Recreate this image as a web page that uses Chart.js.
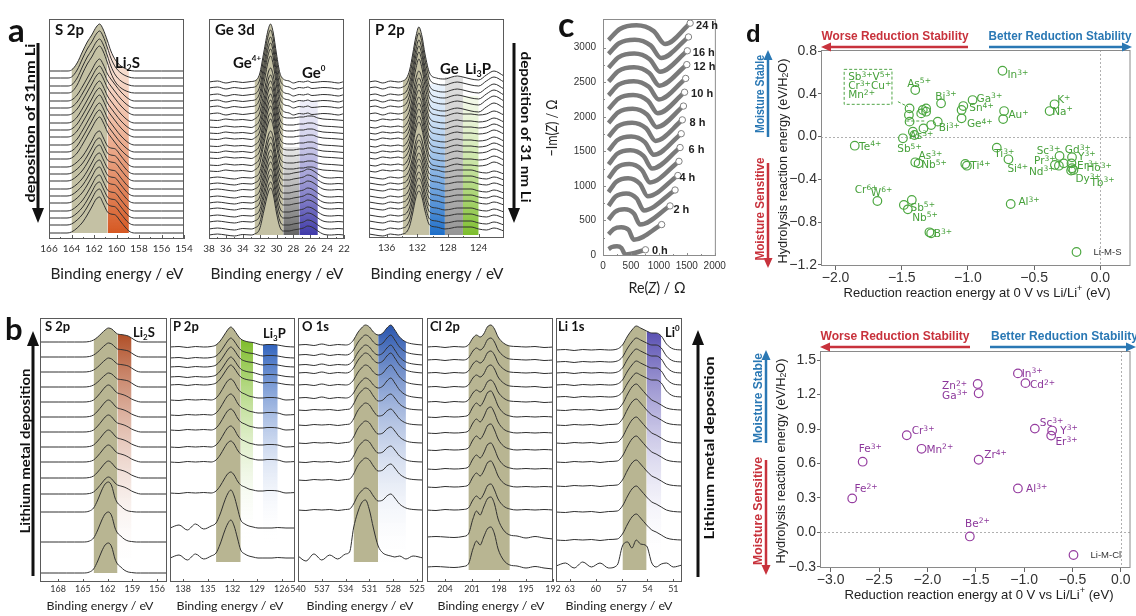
<!DOCTYPE html>
<html>
<head>
<meta charset="utf-8">
<title>XPS, impedance and stability map</title>
<script src="https://cdn.jsdelivr.net/npm/chart.js@4.4.1/dist/chart.umd.min.js"></script>
<style>
  body { margin: 0; background: #fff; }
  #fig { position: relative; width: 1136px; height: 616px; overflow: hidden; background: #fff; }
  #fig canvas { position: absolute; }
  #fig svg { position: absolute; left: 0; top: 0; z-index: 5; }
  .lbl { position: absolute; white-space: nowrap; line-height: 1; transform: translateY(-50%); z-index: 6;
         font-family: "DejaVu Sans", sans-serif; font-size: 10.5px; }
  .lbl sup { font-size: 0.72em; position: relative; top: -0.45em; vertical-align: baseline; line-height: 0; }
  .hl { font-family: Arial, "Liberation Sans", sans-serif; font-weight: bold; font-size: 11px; color: #222; }
  .leg { font-family: Arial, "Liberation Sans", sans-serif; font-size: 9.5px; color: #333; }
</style>
</head>
<body>
<div id="fig">
<svg width="1136" height="616" viewBox="0 0 1136 616">
  <g font-family="Lato, 'Open Sans', sans-serif" font-weight="bold" fill="#111">
    <text x="8" y="42" font-size="33">a</text>
    <text x="5" y="340" font-size="31">b</text>
    <text x="558" y="37" font-size="34">c</text>
  </g>
  <text x="746" y="42" font-size="24" font-weight="bold" font-family="Arial, 'Liberation Sans', sans-serif" fill="#111">d</text>

  <!-- deposition arrows -->
  <g stroke="#111" stroke-width="3">
    <line x1="38" y1="43" x2="38" y2="210"/>
    <line x1="514" y1="43" x2="514" y2="210"/>
    <line x1="33" y1="576" x2="33" y2="344"/>
    <line x1="698" y1="577" x2="698" y2="343"/>
  </g>
  <g fill="#111">
    <polygon points="32,208 44,208 38,223"/>
    <polygon points="508,208 520,208 514,223"/>
    <polygon points="27,346 39,346 33,331"/>
    <polygon points="692,345 704,345 698,330"/>
  </g>
  <g font-family="Lato, 'Open Sans', sans-serif" font-weight="bold" font-size="14" fill="#111" text-anchor="middle" dominant-baseline="central">
    <text transform="translate(29,123) rotate(-90)" textLength="159" lengthAdjust="spacingAndGlyphs">deposition of 31nm Li</text>
    <text transform="translate(526,127) rotate(90)" textLength="151" lengthAdjust="spacingAndGlyphs">deposition of 31 nm Li</text>
    <text transform="translate(24,451) rotate(-90)" textLength="165" lengthAdjust="spacingAndGlyphs">Lithium metal deposition</text>
    <text transform="translate(708,448) rotate(-90)" textLength="183" lengthAdjust="spacingAndGlyphs">Lithium metal deposition</text>
  </g>

  <!-- spectrum names -->
  <g font-family="Lato, 'Open Sans', sans-serif" font-weight="bold" font-size="15" fill="#111">
    <text x="55" y="35">S 2p</text>
    <text x="115" y="68">Li<tspan font-size="9" dy="3">2</tspan><tspan dy="-3">S</tspan></text>
    <text x="215" y="35">Ge 3d</text>
    <text x="233" y="68">Ge<tspan font-size="8" dy="-7">4+</tspan></text>
    <text x="302" y="78">Ge<tspan font-size="8" dy="-7">0</tspan></text>
    <text x="375" y="35">P 2p</text>
    <text x="440" y="74">Ge</text>
    <text x="465" y="74">Li<tspan font-size="9" dy="3">3</tspan><tspan dy="-3">P</tspan></text>
  </g>
  <g font-family="Lato, 'Open Sans', sans-serif" font-weight="bold" font-size="13" fill="#111">
    <text x="45" y="331">S 2p</text>
    <text x="133" y="337">Li<tspan font-size="8" dy="3">2</tspan><tspan dy="-3">S</tspan></text>
    <text x="173" y="331">P 2p</text>
    <text x="263" y="338">Li<tspan font-size="8" dy="3">3</tspan><tspan dy="-3">P</tspan></text>
    <text x="302" y="331">O 1s</text>
    <text x="430" y="331">Cl 2p</text>
    <text x="558" y="331">Li 1s</text>
    <text x="665" y="337">Li<tspan font-size="8" dy="-6">0</tspan></text>
  </g>

  <!-- binding energy titles -->
  <g font-family="Lato, 'Open Sans', sans-serif" fill="#222" text-anchor="middle">
    <text x="117" y="279" font-size="15" textLength="133" lengthAdjust="spacingAndGlyphs">Binding energy / eV</text>
    <text x="277" y="279" font-size="15" textLength="133" lengthAdjust="spacingAndGlyphs">Binding energy / eV</text>
    <text x="437" y="279" font-size="15" textLength="133" lengthAdjust="spacingAndGlyphs">Binding energy / eV</text>
    <text x="100" y="610" font-size="12" textLength="107" lengthAdjust="spacingAndGlyphs">Binding energy / eV</text>
    <text x="230" y="610" font-size="12" textLength="107" lengthAdjust="spacingAndGlyphs">Binding energy / eV</text>
    <text x="360" y="610" font-size="12" textLength="107" lengthAdjust="spacingAndGlyphs">Binding energy / eV</text>
    <text x="491" y="610" font-size="12" textLength="107" lengthAdjust="spacingAndGlyphs">Binding energy / eV</text>
    <text x="619" y="610" font-size="12" textLength="107" lengthAdjust="spacingAndGlyphs">Binding energy / eV</text>
  </g>

  <!-- panel c titles -->
  <g font-family="Lato, 'Open Sans', sans-serif" fill="#222" font-size="15">
    <text transform="translate(551,128) rotate(-90)" text-anchor="middle" dominant-baseline="central" textLength="57" lengthAdjust="spacingAndGlyphs">−Im(<tspan font-style="italic">Z</tspan>) / Ω</text>
    <text x="657" y="293" text-anchor="middle" textLength="57" lengthAdjust="spacingAndGlyphs">Re(<tspan font-style="italic">Z</tspan>) / Ω</text>
  </g>

  <!-- panel d arrows and titles -->
  <g font-family="Arial, 'Liberation Sans', sans-serif" font-weight="bold" font-size="12">
    <text x="895" y="40" text-anchor="middle" fill="#c8323c" textLength="147" lengthAdjust="spacingAndGlyphs">Worse Reduction Stability</text>
    <text x="1060" y="40" text-anchor="middle" fill="#2a78b4" textLength="143" lengthAdjust="spacingAndGlyphs">Better Reduction Stability</text>
    <text x="895" y="340" text-anchor="middle" fill="#c8323c" textLength="149" lengthAdjust="spacingAndGlyphs">Worse Reduction Stability</text>
    <text x="991" y="340" fill="#2a78b4" textLength="147" lengthAdjust="spacingAndGlyphs">Better Reduction Stability</text>
    <text transform="translate(760,94) rotate(-90)" text-anchor="middle" dominant-baseline="central" fill="#2a78b4" textLength="78" lengthAdjust="spacingAndGlyphs">Moisture Stable</text>
    <text transform="translate(760,209) rotate(-90)" text-anchor="middle" dominant-baseline="central" fill="#c8323c" textLength="103" lengthAdjust="spacingAndGlyphs">Moisture Sensitive</text>
    <text transform="translate(758,398) rotate(-90)" text-anchor="middle" dominant-baseline="central" fill="#2a78b4" textLength="90" lengthAdjust="spacingAndGlyphs">Moisture Stable</text>
    <text transform="translate(758,511) rotate(-90)" text-anchor="middle" dominant-baseline="central" fill="#c8323c" textLength="108" lengthAdjust="spacingAndGlyphs">Moisture Sensitive</text>
  </g>
  <g stroke-width="2.5">
    <line x1="968" y1="47" x2="829" y2="47" stroke="#c8323c"/>
    <line x1="989" y1="47" x2="1124" y2="47" stroke="#2a78b4"/>
    <line x1="970" y1="347" x2="828" y2="347" stroke="#c8323c"/>
    <line x1="990" y1="347" x2="1128" y2="347" stroke="#2a78b4"/>
    <line x1="768" y1="137" x2="768" y2="58" stroke="#2a78b4"/>
    <line x1="768" y1="163" x2="768" y2="260" stroke="#c8323c"/>
    <line x1="766" y1="443" x2="766" y2="358" stroke="#2a78b4"/>
    <line x1="766" y1="460" x2="766" y2="567" stroke="#c8323c"/>
  </g>
  <g>
    <polygon points="821,47 831,42.5 831,51.5" fill="#c8323c"/>
    <polygon points="1132,47 1122,42.5 1122,51.5" fill="#2a78b4"/>
    <polygon points="820,347 830,342.5 830,351.5" fill="#c8323c"/>
    <polygon points="1136,347 1126,342.5 1126,351.5" fill="#2a78b4"/>
    <polygon points="768,50 763.5,60 772.5,60" fill="#2a78b4"/>
    <polygon points="768,268 763.5,258 772.5,258" fill="#c8323c"/>
    <polygon points="766,350 761.5,360 770.5,360" fill="#2a78b4"/>
    <polygon points="766,575 761.5,565 770.5,565" fill="#c8323c"/>
  </g>
  <g font-family="Arial, 'Liberation Sans', sans-serif" font-size="13" fill="#222">
    <text transform="translate(782,161) rotate(-90)" text-anchor="middle" dominant-baseline="central" textLength="205" lengthAdjust="spacingAndGlyphs">Hydrolysis reaction energy (eV/H<tspan font-size="9" dy="3">2</tspan><tspan dy="-3">O)</tspan></text>
    <text transform="translate(780,461) rotate(-90)" text-anchor="middle" dominant-baseline="central" textLength="205" lengthAdjust="spacingAndGlyphs">Hydrolysis reaction energy (eV/H<tspan font-size="9" dy="3">2</tspan><tspan dy="-3">O)</tspan></text>
    <text x="977" y="297" text-anchor="middle" textLength="267" lengthAdjust="spacingAndGlyphs">Reduction reaction energy at 0 V vs Li/Li<tspan font-size="9" dy="-6">+</tspan><tspan dy="6"> (eV)</tspan></text>
    <text x="979" y="599" text-anchor="middle" textLength="269" lengthAdjust="spacingAndGlyphs">Reduction reaction energy at 0 V vs Li/Li<tspan font-size="9" dy="-6">+</tspan><tspan dy="6"> (eV)</tspan></text>
  </g>
</svg>
</div>
<script>
// ---------- panel a : XPS while 31 nm Li is deposited ----------
const aS2pEnergy = [166, 165, 164.4, 164, 163.5, 163, 162.6, 162.2, 161.8, 161.5, 161.2, 160.8, 160.5, 160.1, 159.6, 158.9, 158.4, 158, 156, 154];
const aS2pProfiles = [
  [0, 0, 0, 1, 8, 20, 29, 36, 44, 47, 42, 30, 20, 11, 5, 1, 0, 0, 0, 0],
  [0, 0, 0, 1, 6, 15, 23, 31, 39, 42, 37, 27, 22, 16, 9, 2, 0, 0, 0, 0],
  [0, 0, 0, 1, 5, 11, 18, 26, 34, 36, 30, 21, 19, 18, 11, 2, 0, 0, 0, 0]
];
const aS2pBase = [168, 161, 153, 146, 138, 131, 124, 116, 109, 102, 94, 87, 80, 72, 65, 58, 50, 43, 36, 28, 21, 14, 6];
const aS2pPick = [0, 0, 0, 0, 1, 1, 1, 1, 1, 1, 1, 1, 1, 2, 2, 2, 2, 2, 2, 2, 2, 2, 2];

const aGeEnergy = [38, 37, 36, 35, 34, 33, 32.6, 32, 31.5, 31, 30.7, 30.4, 30, 29.6, 29.2, 28.5, 28, 27.3, 26.8, 26.3, 25.8, 25.1, 24.5, 23.5, 22.7, 22];
const aGeProfiles = [
  [0, 1, -1, 0.5, -0.5, 0.5, 1, 8, 30, 52, 58, 50, 28, 9, 3, 1, -1, 0.5, 0, 1, -0.5, 0, 0.5, 0, -1, 0.5],
  [0, -0.5, 1, 0, 0.5, -0.5, 1, 7, 27, 47, 52, 45, 25, 8, 3, 2, 2, 3, 3, 4, 4, 2, 1, 0.5, 0, -0.5],
  [0, 1, 0, -1, 0.5, 0, 1, 6, 24, 42, 47, 41, 22, 8, 4, 4, 5, 6, 7, 9, 8, 4, 1, 0, 0.5, 0]
];
const aGeBase = [157, 151, 144, 138, 132, 125, 119, 112, 106, 100, 93, 87, 81, 74, 68, 61, 55, 49, 42, 36, 30, 23, 17, 10, 4];
const aGePick = [0, 0, 0, 0, 0, 0, 1, 1, 1, 1, 1, 1, 1, 1, 1, 2, 2, 2, 2, 2, 2, 2, 2, 2, 2];

const aPEnergy = [138.3, 137.5, 136.5, 135.5, 134.5, 133.9, 133.4, 133, 132.6, 132.2, 131.8, 131.4, 131, 130.4, 129.5, 128.4, 127.5, 126.8, 126.05, 125, 124, 123, 122, 120.7];
const aPProfiles = [
  [0, 1, -1, 1, 0, 1, 4, 12, 28, 45, 55, 46, 28, 9, 4, 3, 5, 6, 5, 3, 2, 7, 11, 6],
  [0, -1, 1, 0, 1, 0, 3, 10, 25, 41, 49, 42, 26, 9, 5, 4, 6, 7, 6, 6, 5, 6, 9, 5],
  [1, 0, -1, 1, 0, 1, 3, 9, 22, 37, 44, 38, 24, 10, 8, 6, 7, 8, 8, 8, 6, 5, 7, 4]
];
const aPBase = [156, 150, 143, 137, 131, 124, 118, 111, 105, 99, 92, 86, 80, 73, 67, 60, 54, 48, 41, 35, 29, 22, 16, 9, 3];
const aPPick = [0, 0, 0, 0, 0, 0, 1, 1, 1, 1, 1, 1, 1, 1, 1, 2, 2, 2, 2, 2, 2, 2, 2, 2, 2];

// ---------- panel b : XPS of the Li-metal interface ----------
const bS2pEnergy = [170.2, 169, 168, 167, 166, 165, 164.2, 163.7, 163.2, 162.7, 162.3, 161.9, 161.5, 161.1, 160.8, 160.4, 160, 159.5, 159.1, 158.5, 158, 157, 156, 154.8];
const bS2pProfiles = [
  [0, 0, 0, 0, 0, 0, 0.5, 2, 5, 9, 12, 14, 13, 10, 8, 7.5, 7, 6, 4, 1, 0, 0, 0, 0],
  [0, 0, 0, 0, 0, 0, 0.5, 2, 6, 11, 15, 17, 15, 11, 9, 8, 7, 5, 3, 1, 0, 0, 0, 0],
  [0, 0, 0, 0, 0, 0, 1, 4, 12, 22, 28, 30, 26, 14, 9, 6, 3, 1, 0.5, 0, 0, 0, 0, 0]
];
const bS2pBase = [240, 225, 210, 195, 180, 165, 150, 135, 120, 104, 88, 70, 40, 9];
const bS2pPick = [0, 0, 0, 0, 1, 1, 1, 1, 1, 1, 1, 2, 2, 2];

const bPEnergy = [139.6, 138.5, 137.5, 136.5, 135.5, 134.6, 134, 133.5, 133, 132.6, 132.2, 131.8, 131.4, 131, 130.5, 130, 129.5, 128.9, 128.3, 127.8, 127.2, 126.5, 125.5, 124.4];
const bPProfiles = [
  [0, 0.5, -0.5, 0.5, 0, 0.5, 2, 6, 12, 17, 20, 17, 12, 8, 6, 5, 4.5, 3, 2, 2.5, 2.5, 2, 0.5, 0],
  [0, -0.5, 0.5, 0, 0.5, 0, 2, 7, 14, 19, 21, 18, 12, 8, 6, 4, 3, 2, 2, 2.5, 2.5, 2, 0, 0.5],
  [0, 3, -2, 4, -1, 2, 5, 14, 26, 34, 38, 32, 20, 8, 4, 2, 1, 0, 0, 0, 0, 0.5, 0, 0]
];
const bPBase = [235, 224, 215, 205, 197, 182, 167, 152, 135, 120, 89, 54, 24];
const bPPick = [0, 0, 0, 0, 0, 1, 1, 1, 1, 1, 1, 2, 2];

const bO1sEnergy = [540, 539, 538, 537, 536, 535, 534, 533.5, 533, 532.5, 532, 531.5, 531, 530.5, 529.9, 529.3, 528.8, 528.3, 527.8, 527.2, 526.4, 525.5, 524.25];
const bO1sProfiles = [
  [0, 0.5, -0.5, 1, -0.5, 0.5, 0, 1, 5, 12, 17, 20, 18, 13, 10, 12, 17, 20, 15, 8, 3, 1, 0],
  [0, -0.5, 0.5, 0, 0.5, -0.5, 0.5, 1, 6, 14, 19, 22, 20, 14, 9, 10, 14, 16, 12, 6, 2, 0.5, 0],
  [2, -3, 4, -2, 3, -1, 4, 6, 30, 45, 55, 58, 48, 30, 12, 5, 3, 2, 1, 2, -1, 2, 0]
];
const bO1sBase = [237, 227, 217, 209, 197, 184, 172, 157, 139, 120, 102, 72, 24];
const bO1sPick = [0, 0, 0, 0, 0, 0, 1, 1, 1, 1, 1, 1, 2];

const bCl2pEnergy = [206, 205, 204, 203, 202, 201.4, 200.9, 200.5, 200.1, 199.7, 199.3, 198.9, 198.5, 198.1, 197.5, 196.8, 196, 195, 194, 193, 192];
const bCl2pProfiles = [
  [0, 0.5, -0.5, 0.5, 0, 2, 9, 12, 10, 13, 20, 22, 18, 10, 4, 1, 0.5, 0, 0.5, -0.5, 0],
  [0, -0.5, 0.5, 0, 0.5, 2, 10, 14, 11, 16, 24, 26, 20, 11, 4, 1, 0, 0.5, 0, 0.5, 0],
  [0, 0.5, 0, -0.5, 0.5, 3, 18, 26, 22, 30, 38, 40, 33, 18, 7, 2, 1, -1, 0.5, -1, -2]
];
const bCl2pBase = [235, 222, 209, 195, 180, 165, 149, 132, 113, 95, 72, 45, 15];
const bCl2pPick = [0, 0, 0, 0, 0, 1, 1, 1, 1, 1, 1, 2, 2];

const bLi1sEnergy = [64.6, 63.5, 62.5, 61.5, 60.5, 59.5, 58.5, 57.5, 56.9, 56.3, 55.8, 55.3, 54.8, 54.1, 53.5, 53, 52.4, 51.8, 51, 50];
const bLi1sProfiles = [
  [0, 0.5, -0.5, 0.5, 0, 0.5, 0, 1, 5, 14, 20, 24, 22, 19, 17, 17, 14, 6, 1, 0],
  [0, -0.5, 0.5, 0, 0.5, -0.5, 0.5, 1, 6, 16, 23, 26, 22, 15, 10, 8, 5, 2, 0.5, 0],
  [0, 3, -2, 4, -1, 3, -2, 1, 20, 24, 18, 26, 22, 20, 3, -1, 2, 3, -1, 1]
];
const bLi1sBase = [232, 220, 209, 197, 185, 172, 157, 139, 120, 96, 70, 42, 16];
const bLi1sPick = [0, 0, 0, 0, 0, 1, 1, 1, 1, 1, 1, 1, 2];

// ---------- panel c : Nyquist plots over time ----------
const nyquistCurves = [
  [[100, 85], [160, 115], [250, 125], [330, 100], [400, 5], [760, 75]],
  [[100, 300], [190, 375], [325, 400], [460, 360], [550, 220], [1050, 440]],
  [[100, 510], [213, 622], [383, 660], [552, 600], [665, 440], [1200, 710]],
  [[100, 710], [226, 845], [415, 890], [604, 818], [730, 645], [1290, 940]],
  [[100, 910], [240, 1060], [450, 1110], [660, 1030], [800, 850], [1340, 1150]],
  [[100, 1110], [248, 1264], [470, 1315], [692, 1233], [840, 1050], [1360, 1355]],
  [[100, 1310], [256, 1464], [490, 1515], [724, 1433], [880, 1250], [1380, 1555]],
  [[100, 1510], [262, 1664], [505, 1715], [748, 1633], [910, 1450], [1400, 1755]],
  [[100, 1710], [268, 1864], [520, 1915], [772, 1833], [940, 1650], [1420, 1955]],
  [[100, 1910], [272, 2064], [530, 2115], [788, 2033], [960, 1850], [1440, 2155]],
  [[100, 2110], [276, 2264], [540, 2315], [804, 2233], [980, 2050], [1460, 2355]],
  [[100, 2310], [280, 2464], [550, 2515], [820, 2433], [1000, 2250], [1480, 2555]],
  [[100, 2510], [282, 2664], [555, 2715], [828, 2633], [1010, 2450], [1500, 2755]],
  [[100, 2710], [284, 2864], [560, 2915], [836, 2833], [1020, 2650], [1510, 2955]],
  [[100, 2910], [288, 3064], [570, 3115], [852, 3033], [1040, 2850], [1530, 3155]],
  [[100, 3110], [302, 3270], [600, 3325], [908, 3240], [1110, 3053], [1560, 3355]]
];
const nyquistTimes = ['0 h', '2 h', '4 h', '6 h', '8 h', '10 h', '12 h', '16 h', '24 h'];
const nyquistTimeAt = [[875, 76], [1261, 670], [1368, 1124], [1530, 1538], [1548, 1919], [1577, 2347], [1619, 2729], [1607, 2933], [1666, 3324]];
const nyquistReTicks = [0, 500, 1000, 1500, 2000];
const nyquistImTicks = [0, 500, 1000, 1500, 2000, 2500, 3000];

// ---------- panel d : reduction vs hydrolysis energies ----------
const sulfidePoints = [
  [-0.739, 0.616], [-1.398, 0.436], [-1.441, 0.264], [-1.446, 0.202], [-1.441, 0.140], [-1.341, 0.249], [-1.316, 0.264],
  [-1.353, 0.217], [-1.316, 0.233], [-1.336, 0.077], [-1.278, 0.108], [-1.228, 0.140], [-1.416, 0.046], [-1.404, 0.015],
  [-1.491, -0.016], [-1.203, 0.311], [-0.965, 0.342], [-1.035, 0.286], [-1.048, 0.249], [-1.048, 0.171], [-0.727, 0.239],
  [-0.734, 0.164], [-0.346, 0.302], [-0.383, 0.239], [-1.855, -0.085], [-0.782, -0.103], [-0.694, -0.212], [-1.398, -0.240],
  [-1.373, -0.250], [-1.020, -0.256], [-1.008, -0.272], [-0.308, -0.181], [-0.276, -0.250], [-0.214, -0.193], [-0.218, -0.250],
  [-0.214, -0.296], [-0.203, -0.312], [-0.343, -0.265], [-0.313, -0.272], [-0.221, -0.318], [-0.677, -0.630], [-1.684, -0.602],
  [-1.484, -0.639], [-1.454, -0.680], [-1.424, -0.593], [-1.291, -0.895], [-1.278, -0.904]
];
const sulfideIons = [
  ['In', '3+'], ['As', '5+'], ['Bi', '3+'], ['Ga', '3+'], ['Sn', '4+'], ['Ge', '4+'], ['Au', '+'], ['K', '+'], ['Na', '+'],
  ['Bi', '3+'], ['As', '3+'], ['Sb', '5+'], ['Te', '4+'], ['As', '3+'], ['Nb', '5+'], ['Ti', '4+'], ['Ti', '3+'], ['Si', '4+'],
  ['Sc', '3+'], ['Gd', '3+'], ['Pr', '3+'], ['Nd', '3+'], ['Y', '3+'], ['Er', '3+'], ['Ho', '3+'], ['Dy', '3+'], ['Tb', '3+'],
  ['Cr', '6+'], ['W', '6+'], ['Sb', '5+'], ['Nb', '5+'], ['B', '3+'], ['Al', '3+']
];
const sulfideIonAt = [
  [-0.702, 0.585], [-1.459, 0.504], [-1.246, 0.383], [-0.935, 0.364], [-0.990, 0.274], [-1.008, 0.124], [-0.694, 0.211],
  [-0.326, 0.348], [-0.363, 0.242], [-1.221, 0.087], [-1.441, 0.015], [-1.534, -0.110], [-1.822, -0.085], [-1.373, -0.172],
  [-1.353, -0.259], [-0.982, -0.265], [-0.802, -0.156], [-0.702, -0.297], [-0.481, -0.125], [-0.268, -0.116], [-0.501, -0.222],
  [-0.539, -0.318], [-0.168, -0.178], [-0.176, -0.265], [-0.105, -0.287], [-0.188, -0.390], [-0.075, -0.421], [-1.855, -0.490],
  [-1.734, -0.515], [-1.434, -0.655], [-1.421, -0.748], [-1.258, -0.904], [-0.619, -0.602]
];
const sulfideGroup = [['Sb<sup>3+</sup>V<sup>5+</sup>'], ['Cr<sup>3+</sup>Cu<sup>+</sup>'], ['Mn<sup>2+</sup>']];
const sulfideGroupAt = [[-1.905, 0.566], [-1.905, 0.482], [-1.905, 0.395]];

const chloridePoints = [
  [-1.064, 1.385], [-0.986, 1.300], [-1.480, 1.293], [-1.470, 1.212], [-0.889, 0.904], [-0.710, 0.887], [-0.720, 0.843],
  [-2.213, 0.846], [-2.060, 0.728], [-2.669, 0.616], [-1.470, 0.633], [-1.064, 0.383], [-2.777, 0.296], [-1.561, -0.035]
];
const chlorideIons = [
  ['In', '3+'], ['Cd', '2+'], ['Zn', '2+'], ['Ga', '3+'], ['Sc', '3+'], ['Y', '3+'], ['Er', '3+'],
  ['Cr', '3+'], ['Mn', '2+'], ['Fe', '3+'], ['Zr', '4+'], ['Al', '3+'], ['Fe', '2+'], ['Be', '2+']
];
const chlorideIonAt = [
  [-1.024, 1.391], [-0.939, 1.293], [-1.848, 1.284], [-1.848, 1.198], [-0.838, 0.959], [-0.625, 0.895], [-0.676, 0.795],
  [-2.162, 0.890], [-2.010, 0.728], [-2.709, 0.731], [-1.412, 0.679], [-0.980, 0.386], [-2.753, 0.383], [-1.611, 0.083]
];

// ---------------------------------------------------------------------------
const fig = document.getElementById('fig');

function makeCanvas(l, t, w, h) {
  const c = document.createElement('canvas');
  c.width = w; c.height = h;
  c.style.left = l + 'px'; c.style.top = t + 'px';
  c.style.width = w + 'px'; c.style.height = h + 'px';
  fig.appendChild(c);
  return c;
}

// box around the plot area, with small ticks pointing inwards
const framePlugin = {
  id: 'frame',
  afterDatasetsDraw(chart, args, o) {
    const { ctx, chartArea: a } = chart;
    ctx.save();
    ctx.strokeStyle = o.color || '#555';
    ctx.lineWidth = 1;
    ctx.strokeRect(a.left + 0.5, a.top + 0.5, a.width - 1, a.height - 1);
    const inner = (sc, lens, horiz) => {
      const vals = sc.ticks.map(t => t.value);
      ctx.beginPath();
      vals.forEach((v, i) => {
        const marks = [[v, lens[0]]];
        if (lens[1] && i < vals.length - 1) marks.push([(v + vals[i + 1]) / 2, lens[1]]);
        marks.forEach(([m, len]) => {
          const p = Math.round(sc.getPixelForValue(m)) + 0.5;
          if (horiz) { ctx.moveTo(p, a.bottom); ctx.lineTo(p, a.bottom - len); }
          else { ctx.moveTo(a.left, p); ctx.lineTo(a.left + len, p); }
        });
      });
      ctx.stroke();
    };
    if (o.inX) inner(chart.scales.x, o.inX, true);
    if (o.inY) inner(chart.scales.y, o.inY, false);
    ctx.restore();
  }
};

// dotted lines through zero
const zeroPlugin = {
  id: 'zero',
  beforeDatasetsDraw(chart) {
    const { ctx, chartArea: a, scales } = chart;
    ctx.save();
    ctx.strokeStyle = '#b0b0b0'; ctx.lineWidth = 1; ctx.setLineDash([2, 2]);
    const px = Math.round(scales.x.getPixelForValue(0)) + 0.5;
    const py = Math.round(scales.y.getPixelForValue(0)) + 0.5;
    ctx.beginPath();
    ctx.moveTo(a.left, py); ctx.lineTo(a.right, py);
    ctx.moveTo(px, a.top); ctx.lineTo(px, a.bottom);
    ctx.stroke();
    ctx.restore();
  }
};

function xps(p) {
  const pad = 16;
  const [l, t, w, h] = p.box;
  const cv = makeCanvas(l - pad, t, w + 2 * pad, h + p.axisH);
  const traces = p.base.map((b, i) => ({
    data: p.energy.map((e, j) => ({ x: e, y: b + p.profiles[p.pick[i]][j] })),
    borderColor: '#303030', borderWidth: 1, pointRadius: 0,
    cubicInterpolationMode: 'monotone', fill: false, order: 1
  }));
  const top = traces[0].data;
  const fills = p.bands.map(b => {
    const pts = b.level == null
      ? top.filter(q => q.x >= b.lo && q.x <= b.hi)
      : [{ x: b.hi, y: b.level }, { x: b.lo, y: b.level }];
    const gTop = Math.max(...pts.map(q => q.y));
    return {
      data: pts, borderWidth: 0, borderColor: 'rgba(0,0,0,0)', pointRadius: 0,
      cubicInterpolationMode: 'monotone', order: 2, fill: { value: b.floor },
      backgroundColor: c => {
        const ch = c.chart, ys = ch.scales.y;
        if (!ch.chartArea || !ys) return b.bottom;
        const g = ch.ctx.createLinearGradient(0, ys.getPixelForValue(gTop), 0, ys.getPixelForValue(b.floor));
        g.addColorStop(0, b.top);
        g.addColorStop(1, b.bottom);
        return g;
      }
    };
  });
  return new Chart(cv, {
    type: 'line',
    data: { datasets: traces.concat(fills) },
    options: {
      responsive: false, animation: false, events: [],
      layout: { padding: { left: pad, right: pad, top: 0, bottom: 0 } },
      plugins: { legend: { display: false }, tooltip: { enabled: false }, frame: { color: '#5a5a5a', inX: p.inTicks } },
      scales: {
        x: {
          type: 'linear', reverse: true, min: p.range[0], max: p.range[1],
          afterFit: s => { s.height = p.axisH; },
          grid: { display: false, drawTicks: false }, border: { display: false },
          ticks: { stepSize: p.step, includeBounds: false, autoSkip: false, maxRotation: 0, padding: p.tickPad,
                   color: '#333', font: { family: 'Lato, "Open Sans", sans-serif', size: p.fontSize } }
        },
        y: { display: false, min: 0, max: h }
      }
    },
    plugins: [framePlugin]
  });
}

const khakiA = 'rgb(196,193,164)';
const khakiB = 'rgb(184,181,146)';
const clear = 'rgba(255,255,255,0)';

// panel a
xps({ box: [49, 19, 135, 220], axisH: 22, range: [154, 166], step: 2, fontSize: 10, tickPad: 4, inTicks: [4, 2],
  energy: aS2pEnergy, profiles: aS2pProfiles, base: aS2pBase, pick: aS2pPick,
  bands: [
    { lo: 160.8, hi: 164, floor: 6, top: khakiA, bottom: khakiA },
    { lo: 158.9, hi: 160.8, floor: 6, top: 'rgba(246,215,195,0.5)', bottom: 'rgb(214,88,34)' }
  ] });
xps({ box: [209, 19, 135, 220], axisH: 22, range: [22, 38], step: 2, fontSize: 10, tickPad: 4, inTicks: [4, 2],
  energy: aGeEnergy, profiles: aGeProfiles, base: aGeBase, pick: aGePick,
  bands: [
    { lo: 29.2, hi: 32.6, floor: 4, top: khakiA, bottom: khakiA },
    { lo: 27.3, hi: 29.2, level: 92, floor: 4, top: 'rgba(205,205,205,0.5)', bottom: 'rgb(100,100,100)' },
    { lo: 25.1, hi: 27.3, level: 139, floor: 4, top: 'rgba(220,220,242,0.4)', bottom: 'rgb(62,56,168)' }
  ] });
xps({ box: [369, 19, 135, 219], axisH: 23, range: [120.7, 138.3], step: 4, fontSize: 10, tickPad: 4, inTicks: [4, 2],
  energy: aPEnergy, profiles: aPProfiles, base: aPBase, pick: aPPick,
  bands: [
    { lo: 130.4, hi: 133.9, floor: 3, top: khakiA, bottom: khakiA },
    { lo: 128.4, hi: 130.4, level: 154, floor: 3, top: 'rgba(215,232,250,0.5)', bottom: 'rgb(30,110,200)' },
    { lo: 126.05, hi: 128.4, level: 161, floor: 3, top: 'rgba(205,205,205,0.6)', bottom: 'rgb(150,150,150)' },
    { lo: 124, hi: 126.05, level: 142, floor: 3, top: 'rgba(235,245,215,0.5)', bottom: 'rgb(125,190,45)' }
  ] });

// panel b
xps({ box: [40, 318, 127, 264], axisH: 16, range: [154.8, 170.2], step: 3, fontSize: 9, tickPad: 2, inTicks: [3, 0],
  energy: bS2pEnergy, profiles: bS2pProfiles, base: bS2pBase, pick: bS2pPick,
  bands: [
    { lo: 160.8, hi: 163.7, floor: 9, top: khakiB, bottom: khakiB },
    { lo: 159.1, hi: 160.8, floor: 9, top: 'rgb(176,78,38)', bottom: clear }
  ] });
xps({ box: [170, 318, 125, 264], axisH: 16, range: [124.4, 139.6], step: 3, fontSize: 9, tickPad: 2, inTicks: [3, 0],
  energy: bPEnergy, profiles: bPProfiles, base: bPBase, pick: bPPick,
  bands: [
    { lo: 131, hi: 134, floor: 20, top: khakiB, bottom: khakiB },
    { lo: 129.5, hi: 131, floor: 40, top: 'rgb(125,188,40)', bottom: clear },
    { lo: 126.5, hi: 128.3, floor: 40, top: 'rgb(50,100,190)', bottom: clear }
  ] });
xps({ box: [298, 318, 125, 264], axisH: 16, range: [524.25, 540], step: 3, fontSize: 9, tickPad: 2, inTicks: [3, 0],
  energy: bO1sEnergy, profiles: bO1sProfiles, base: bO1sBase, pick: bO1sPick,
  bands: [
    { lo: 529.9, hi: 533, floor: 20, top: khakiB, bottom: khakiB },
    { lo: 526.4, hi: 529.9, floor: 20, top: 'rgb(40,85,175)', bottom: clear }
  ] });
xps({ box: [427, 318, 126, 264], axisH: 16, range: [192, 206], step: 3, fontSize: 9, tickPad: 2, inTicks: [3, 0],
  energy: bCl2pEnergy, profiles: bCl2pProfiles, base: bCl2pBase, pick: bCl2pPick,
  bands: [
    { lo: 196.8, hi: 201.4, floor: 12, top: khakiB, bottom: khakiB }
  ] });
xps({ box: [556, 318, 126, 264], axisH: 16, range: [50, 64.6], step: 3, fontSize: 9, tickPad: 2, inTicks: [3, 0],
  energy: bLi1sEnergy, profiles: bLi1sProfiles, base: bLi1sBase, pick: bLi1sPick,
  bands: [
    { lo: 54.1, hi: 56.9, floor: 12, top: khakiB, bottom: khakiB },
    { lo: 52.4, hi: 54.1, floor: 16, top: 'rgb(88,78,178)', bottom: clear }
  ] });

// labels placed through a chart's scales
function place(chart, cvPos, x, y, html, cls, color) {
  const d = document.createElement('div');
  d.className = cls;
  d.innerHTML = html;
  d.style.left = (cvPos[0] + chart.scales.x.getPixelForValue(x)) + 'px';
  d.style.top = (cvPos[1] + chart.scales.y.getPixelForValue(y)) + 'px';
  if (color) d.style.color = color;
  fig.appendChild(d);
}

// panel c
(function () {
  const pos = [560, 6, 170, 290];
  const cv = makeCanvas(...pos);
  const ds = [];
  nyquistCurves.forEach(curve => {
    const data = curve.map(q => ({ x: q[0], y: q[1] }));
    const last = data.length - 1;
    ds.push({ data, borderColor: '#7a7a7a', borderWidth: 4.5, cubicInterpolationMode: 'monotone',
      pointRadius: c => (c.dataIndex === last ? 3.2 : 0), pointBorderColor: '#808080', pointBackgroundColor: '#fff', pointBorderWidth: 1 });
    ds.push({ data, borderColor: 'rgba(228,228,228,0.9)', borderWidth: 1.6, cubicInterpolationMode: 'monotone', pointRadius: 0 });
  });
  const tickFont = { family: 'Arial, "Liberation Sans", sans-serif', size: 10 };
  const chart = new Chart(cv, {
    type: 'line',
    data: { datasets: ds },
    options: {
      responsive: false, animation: false, events: [],
      layout: { padding: { left: 0, right: 14, top: 10, bottom: 0 } },
      plugins: { legend: { display: false }, tooltip: { enabled: false }, frame: { color: '#8c8c8c', inX: [3, 2], inY: [3, 2] } },
      scales: {
        x: { type: 'linear', min: 0, max: 2020, afterFit: s => { s.height = 40; },
             afterBuildTicks: s => { s.ticks = nyquistReTicks.map(v => ({ value: v })); },
             grid: { display: false, drawTicks: false }, border: { display: false },
             ticks: { maxRotation: 0, padding: 4, color: '#333', font: tickFont, callback: v => String(v) } },
        y: { type: 'linear', min: -15, max: 3415, afterFit: s => { s.width = 43; },
             afterBuildTicks: s => { s.ticks = nyquistImTicks.map(v => ({ value: v })); },
             grid: { display: false, drawTicks: false }, border: { display: false },
             ticks: { padding: 7, color: '#333', font: tickFont, callback: v => String(v) } }
      }
    },
    plugins: [framePlugin]
  });
  nyquistTimes.forEach((t, i) => place(chart, pos, nyquistTimeAt[i][0], nyquistTimeAt[i][1], t, 'lbl hl'));
})();

// panel d
const minusFmt = v => (v < -1e-9 ? '\u2212' : '') + Math.abs(v).toFixed(1);

function stabilityMap(p) {
  const cv = makeCanvas(...p.pos);
  const legendMark = {
    id: 'legendMark',
    afterDatasetsDraw(chart) {
      const { ctx, chartArea: a } = chart;
      ctx.save();
      ctx.strokeStyle = p.color; ctx.lineWidth = 1.2;
      ctx.beginPath(); ctx.arc(a.right - p.legend[0], a.bottom - p.legend[1], 4.3, 0, Math.PI * 2); ctx.stroke();
      ctx.restore();
    }
  };
  const axisFont = { family: 'Arial, "Liberation Sans", sans-serif', size: 14 };
  const chart = new Chart(cv, {
    type: 'scatter',
    data: { datasets: [{
      data: p.points.map(q => ({ x: q[0], y: q[1] })),
      pointRadius: 4.3, pointBorderWidth: 1.2, pointBorderColor: p.color, pointBackgroundColor: 'rgba(0,0,0,0)'
    }] },
    options: {
      responsive: false, animation: false, events: [],
      layout: { padding: p.pad },
      plugins: { legend: { display: false }, tooltip: { enabled: false }, frame: { color: '#8a8a8a' } },
      scales: {
        x: { type: 'linear', min: p.xr[0], max: p.xr[1], afterFit: s => { s.height = p.axisH; },
             grid: { drawOnChartArea: false, tickLength: 4, color: '#666' }, border: { display: false },
             ticks: { stepSize: 0.5, includeBounds: false, maxRotation: 0, padding: 0, color: '#333', font: axisFont, callback: minusFmt } },
        y: { type: 'linear', min: p.yr[0], max: p.yr[1], afterFit: s => { s.width = p.axisW; },
             grid: { drawOnChartArea: false, tickLength: 3, color: '#666' }, border: { display: false },
             ticks: { stepSize: p.yStep, includeBounds: false, padding: 1, color: '#333', font: axisFont, callback: minusFmt } }
      }
    },
    plugins: [framePlugin, zeroPlugin, legendMark].concat(p.extra ? [p.extra] : [])
  });
  p.ions.forEach((ion, i) =>
    place(chart, p.pos, p.ionAt[i][0], p.ionAt[i][1], ion[0] + '<sup>' + ion[1] + '</sup>', 'lbl', p.text));
  const a = chart.chartArea;
  const lg = document.createElement('div');
  lg.className = 'lbl leg';
  lg.textContent = p.legendText;
  lg.style.left = (p.pos[0] + a.right - p.legend[0] + 17) + 'px';
  lg.style.top = (p.pos[1] + a.bottom - p.legend[1]) + 'px';
  fig.appendChild(lg);
  return chart;
}

const groupBox = {
  id: 'groupBox',
  afterDatasetsDraw(chart) {
    const { ctx, scales: { x, y } } = chart;
    ctx.save();
    ctx.strokeStyle = 'rgb(80,165,70)'; ctx.lineWidth = 1; ctx.setLineDash([3, 2]);
    const x0 = x.getPixelForValue(-1.935), x1 = x.getPixelForValue(-1.574);
    const y0 = y.getPixelForValue(0.629), y1 = y.getPixelForValue(0.302);
    ctx.strokeRect(x0, y0, x1 - x0, y1 - y0);
    ctx.beginPath();
    ctx.moveTo(x.getPixelForValue(-1.529), y.getPixelForValue(0.327));
    ctx.lineTo(x.getPixelForValue(-1.454), y.getPixelForValue(0.280));
    ctx.moveTo(x.getPixelForValue(-1.466), y.getPixelForValue(0.146));
    ctx.lineTo(x.getPixelForValue(-1.328), y.getPixelForValue(0.146));
    ctx.stroke();
    ctx.restore();
  }
};

const sulfideChart = stabilityMap({
  pos: [785, 40, 351, 256], pad: { left: 0, right: 4, top: 10, bottom: 0 }, axisW: 36, axisH: 30,
  xr: [-2.11, 0.228], yr: [-1.21, 0.81], yStep: 0.4,
  points: sulfidePoints, ions: sulfideIons, ionAt: sulfideIonAt,
  color: 'rgb(78,168,66)', text: 'rgb(70,160,58)', legend: [54, 14], legendText: 'Li-M-S', extra: groupBox
});
sulfideGroup.forEach((g, i) =>
  place(sulfideChart, [785, 40], sulfideGroupAt[i][0], sulfideGroupAt[i][1], g[0], 'lbl', 'rgb(70,160,58)'));

stabilityMap({
  pos: [784, 341, 352, 257], pad: { left: 0, right: 0, top: 10, bottom: 0 }, axisW: 36, axisH: 30,
  xr: [-3.11, 0.1], yr: [-0.31, 1.58], yStep: 0.3,
  points: chloridePoints, ions: chlorideIons, ionAt: chlorideIonAt,
  color: 'rgb(150,62,160)', text: 'rgb(140,55,155)', legend: [57, 13], legendText: 'Li-M-Cl'
});
</script>
</body>
</html>
